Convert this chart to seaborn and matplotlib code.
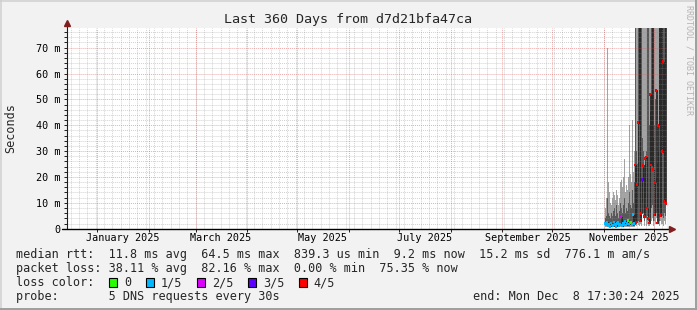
import matplotlib
matplotlib.use("Agg")
import numpy as np
import pandas as pd
import matplotlib.pyplot as plt
from matplotlib.patches import Rectangle
from matplotlib.lines import Line2D
import seaborn as sns

# ---------------- data ----------------
title = "Last 360 Days from d7d21bfa47ca"
range_start = pd.Timestamp("2024-12-13 17:30:24")
range_end = pd.Timestamp("2025-12-08 17:30:24")
# one RRD step (0.6 day) per column, first column on Nov 1
step_times = pd.date_range("2025-11-01 12:43", periods=62, freq="864min")

# smoke (ms): outer min, inner low, inner high, outer max
smoke_min = [0.8, 0.7, 0.8, 0.6, 0.7, 0.6, 0.8, 0.7, 0.6, 0.8, 0.7, 0.6, 0.7, 0.8, 0.6,
             0.7, 0.8, 0.7, 0.6, 0.7, 0.8, 0.6, 0.7, 0.6, 0.7, 0.8, 0.6, 0.7, 0.8, 0.7,
             2, 1, 3, 1.5, 1, 2, 1, 6, 5, 1, 5, 1, 2, 1, 1, 2,
             3, 4, 1, 3, 2, 4, 3, 2, 1, 3, 2, 2, 1, 3, 2, 5]
smoke_lo = [1.2, 1.0, 1.5, 1.0, 1.1, 0.9, 1.2, 1.0, 1.0, 1.3, 1.0, 0.9, 1.1, 1.2, 1.0,
            1.1, 1.4, 1.0, 1.0, 1.2, 1.1, 1.0, 1.1, 1.0, 1.2, 1.3, 1.0, 1.1, 1.3, 1.2,
            4, 3, 8, 3, 2.5, 5, 4, 10, 6, 3, 12, 4, 5, 3, 2, 6,
            8, 9, 3, 6, 5, 6, 7, 5, 3, 8, 6, 5, 4, 6, 5, 7]
smoke_hi = [4, 5, 12, 6, 5, 4, 6, 5, 7, 8, 5, 9, 6, 4, 7,
            10, 8, 6, 9, 12, 6, 8, 7, 10, 14, 9, 8, 15, 10, 18,
            100, 30, 25, 100, 100, 100, 100, 35, 30, 20, 25, 30, 100, 100, 40, 45,
            100, 100, 35, 40, 50, 20, 25, 30, 100, 100, 100, 100, 100, 100, 100, 40]
smoke_max = [8, 12, 70, 18, 14, 10, 9, 12, 14, 13, 11, 15, 13, 9, 12,
             18, 19, 16, 20, 27, 14, 17, 15, 20, 40, 21, 18, 42, 22, 30,
             100, 100, 100, 100, 100, 100, 100, 100, 100, 100, 100, 100, 100, 100, 100, 100,
             100, 100, 100, 100, 100, 100, 100, 100, 100, 100, 100, 100, 100, 100, 100, 100]
median_ms = [2.0, 1.5, 2.5, 1.2, 1.8, 1.0, 2.2, 1.4, 1.1, 2.6, 1.5, 1.0, 1.9, 2.3, 1.3,
             1.7, 4.5, 1.2, 2.0, 1.6, 2.8, 1.4, 2.1, 3.3, 1.8, 2.4, 2.3, 1.5, 5.4, 2.0,
             24.6, 2.5, 17, 41, 85, 3, 6, 19, 24.5, 4.6, 27, 27.7, 8, 3.9, 2.2, 52,
             24.6, 85, 23, 5.3, 18, 53.5, 2.2, 40, 85, 5, 85, 29.8, 64.5, 10.4, 85, 9.7]
loss_fifths = [1, 1, 1, 1, 1, 1, 1, 1, 1, 1, 1, 1, 1, 1, 1,
               1, 2, 1, 1, 1, 1, 1, 1, 0, 1, 1, 0, 1, 1, 1,
               4, 4, 4, 4, 4, 4, 4, 3, 4, 4, 4, 4, 4, 4, 4, 4,
               4, 4, 4, 4, 4, 4, 4, 4, 4, 4, 4, 4, 4, 4, 4, 4]

loss_labels = ["0", "1/5", "2/5", "3/5", "4/5"]
loss_colors = ["#26ff00", "#00b8ff", "#dd00ff", "#5e00ff", "#ff0000"]

y_ticks = [0, 10, 20, 30, 40, 50, 60, 70]
y_tick_labels = ["0", "10 m", "20 m", "30 m", "40 m", "50 m", "60 m", "70 m"]
month_labels = ["January 2025", "March 2025", "May 2025", "July 2025",
                "September 2025", "November 2025"]
month_label_dates = ["2025-01-16", "2025-03-16", "2025-05-16", "2025-07-16",
                     "2025-09-16", "2025-11-16"]

line_rtt = "median rtt:  11.8 ms avg  64.5 ms max  839.3 us min  9.2 ms now  15.2 ms sd  776.1 m am/s"
line_loss = "packet loss: 38.11 % avg  82.16 % max  0.00 % min  75.35 % now"
line_color = "loss color:"
line_probe = "probe:       5 DNS requests every 30s"
line_end = "end: Mon Dec  8 17:30:24 2025"
watermark = "RRDTOOL / TOBI OETIKER"

# ---------------- figure ----------------
sns.set_theme(style="white")
plt.rcParams["font.family"] = ["DejaVu Sans Mono"]

W, H = 697, 310
fig = plt.figure(figsize=(W / 100, H / 100), dpi=100, facecolor="#F2F2F2")
ax_left, ax_right, ax_top, ax_bot = 67, 667, 28, 228.7
ax = fig.add_axes([ax_left / W, (H - ax_bot) / H, (ax_right - ax_left) / W, (ax_bot - ax_top) / H])
ax.set_facecolor("white")
ax.set_xlim(range_start, range_end)
ax.set_ylim(0, 77.6)
for s in ax.spines.values():
    s.set_visible(False)

df = pd.DataFrame({"t": step_times, "lo": smoke_min, "l2": smoke_lo, "h2": smoke_hi,
                   "hi": smoke_max, "median": median_ms,
                   "loss": [loss_labels[i] for i in loss_fifths]})

# smoke
ax.fill_between(df["t"], df["lo"], df["hi"], step="mid", color="#a4a4a4", lw=0, zorder=1)
ax.fill_between(df["t"], df["l2"], df["h2"], step="mid", color="#585858", lw=0, zorder=1.5)
# median line
sns.lineplot(data=df, x="t", y="median", ax=ax, color="#202020", lw=0.6,
             drawstyle="steps-mid", estimator=None, zorder=2)

# grid (drawn over the smoke like rrdtool)
grid_kw = dict(lw=0.65, ls=(0, (1.1, 1.1)), zorder=3)
minor_col = (0.56, 0.56, 0.56, 0.42)
major_col = (0.87, 0.31, 0.31, 0.5)
for y in np.arange(2, 78, 2):
    ax.axhline(y, color=major_col if y % 10 == 0 else minor_col, **grid_kw)
month_starts = pd.date_range("2025-01-01", "2025-12-01", freq="MS")
for d in pd.date_range("2024-12-16", range_end, freq="5D"):
    ax.axvline(d, color=minor_col, **grid_kw)
for d in month_starts:
    ax.axvline(d, color=major_col, **grid_kw)

# median markers coloured by loss
sns.scatterplot(data=df, x="t", y="median", hue="loss", ax=ax, marker="s", s=4,
                linewidth=0, palette=dict(zip(loss_labels, loss_colors)),
                hue_order=loss_labels, legend=False, zorder=4)

# ticks
ax.set_yticks(y_ticks)
ax.set_yticklabels(y_tick_labels)
ax.set_yticks(np.arange(0, 78, 2), minor=True)
ax.set_xticks(month_starts)
ax.set_xticklabels([])
ax.tick_params(axis="both", which="both", direction="out", length=2.2, width=0.7,
               color="#1f1f1f", pad=2.8, labelsize=7.3, labelcolor="black",
               left=True, bottom=True)
ax.tick_params(axis="x", which="minor", length=0)
ax.set_xlabel("")
ax.set_ylabel("")
for lab, d in zip(month_labels, month_label_dates):
    ax.text(pd.Timestamp(d), -0.045, lab, transform=ax.get_xaxis_transform(),
            ha="center", va="center", fontsize=7.3, color="black")

# axes lines with arrows
axis_col = "#1f1f1f"
ax.plot([0, 0], [0, 1.02], transform=ax.transAxes, color=axis_col, lw=0.8,
        clip_on=False, zorder=5)
ax.plot([-0.008, 1.004], [0, 0], transform=ax.transAxes, color="black", lw=1.0,
        clip_on=False, zorder=5)
ax.plot([0], [1.027], transform=ax.transAxes, marker="^", ms=4, color="#801f1f",
        clip_on=False, zorder=6)
ax.plot([1.0085], [0], transform=ax.transAxes, marker=">", ms=4, color="#801f1f",
        clip_on=False, zorder=6)

# texts
def ftext(x, y, s, **kw):
    fig.text(x / W, 1 - y / H, s, **kw)

ftext(348, 19.5, title, ha="center", va="center", fontsize=9.6)
ftext(11, 128, "Seconds", ha="center", va="center", rotation=90, fontsize=8.5)
ftext(688.5, 60, watermark, ha="center", va="center", rotation=270, fontsize=6,
      color="#b4b4b4")
ftext(16, 254.5, line_rtt, ha="left", va="center", fontsize=8.5)
ftext(16, 268.5, line_loss, ha="left", va="center", fontsize=8.5)
ftext(16, 282.5, line_color, ha="left", va="center", fontsize=8.5)
ftext(16, 296.5, line_probe, ha="left", va="center", fontsize=8.5)
ftext(680, 296.5, line_end, ha="right", va="center", fontsize=8.5)

box_x = [109, 146, 197, 248, 299]
text_x = [124, 161, 212, 263, 313]
for bx, tx, lab, col in zip(box_x, text_x, loss_labels, loss_colors):
    fig.add_artist(Rectangle((bx / W, 1 - 286.5 / H), 7.5 / W, 8.5 / H,
                             transform=fig.transFigure, facecolor=col,
                             edgecolor="black", lw=0.8))
    ftext(tx, 282.5, lab, ha="left", va="center", fontsize=8.5)

# outer frame shading (rrdtool SHADEA / SHADEB)
fig.add_artist(Line2D([0, 1], [1 - 0.75 / H] * 2, transform=fig.transFigure,
                      color="#CFCFCF", lw=1.1))
fig.add_artist(Line2D([0.75 / W] * 2, [0, 1], transform=fig.transFigure,
                      color="#CFCFCF", lw=1.1))
fig.add_artist(Line2D([0, 1], [1.0 / H] * 2, transform=fig.transFigure,
                      color="#9E9E9E", lw=1.4))
fig.add_artist(Line2D([1 - 1.0 / W] * 2, [0, 1], transform=fig.transFigure,
                      color="#9E9E9E", lw=1.4))

fig.savefig("out.png", dpi=100, facecolor=fig.get_facecolor())
